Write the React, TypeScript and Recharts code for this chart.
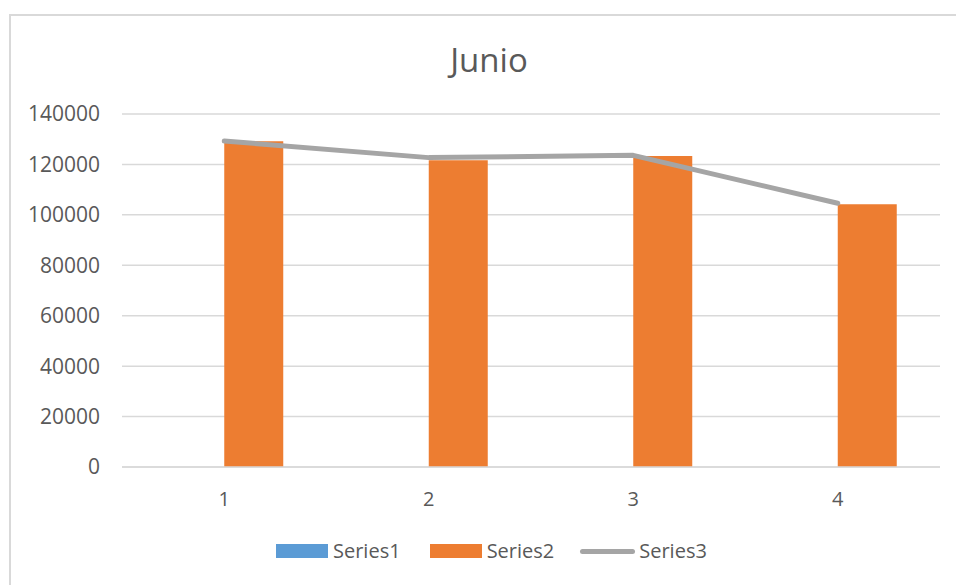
import React from "react";
import { ComposedChart, Bar, Line, XAxis, YAxis, CartesianGrid } from "recharts";

// Weekly figures for June
const categories = ["1", "2", "3", "4"];
const series1 = [1, 2, 3, 4];
const series2 = [129200, 121700, 123300, 104200];
const series3 = [129300, 122700, 123600, 104600];
const yTicks = [0, 20000, 40000, 60000, 80000, 100000, 120000, 140000];

const data = categories.map((c, i) => ({
  name: c,
  Series1: series1[i],
  Series2: series2[i],
  Series3: series3[i],
}));

const FONT = "'Open Sans', sans-serif";
const TEXT = "#595959";
const GRID = "#D9D9D9";
const COLORS = { Series1: "#5B9BD5", Series2: "#ED7D31", Series3: "#A5A5A5" };

const ChartLegend = () => (
  <div style={{ position: "absolute", left: 276, top: 536, display: "flex", alignItems: "center", fontFamily: FONT, fontSize: 20, color: TEXT, lineHeight: "30px" }}>
    <span style={{ display: "inline-block", width: 52, height: 14, background: COLORS.Series1, marginRight: 5 }} />
    <span style={{ marginRight: 29 }}>Series1</span>
    <span style={{ display: "inline-block", width: 52, height: 14, background: COLORS.Series2, marginRight: 5 }} />
    <span style={{ marginRight: 26 }}>Series2</span>
    <span style={{ display: "inline-block", width: 55, height: 5, borderRadius: 3, background: COLORS.Series3, marginRight: 4 }} />
    <span>Series3</span>
  </div>
);

export default function App() {
  return (
    <div style={{ position: "fixed", left: 0, top: 0, width: 956, height: 585, overflow: "hidden", background: "#fff" }}>
      <div style={{ position: "absolute", left: 9, top: 14, width: 990, height: 620, border: `2px solid ${GRID}`, boxSizing: "border-box" }} />
      <div style={{ position: "absolute", left: 0, top: 37, width: 956, textAlign: "center", paddingLeft: 22, boxSizing: "border-box", fontFamily: FONT, fontSize: 33, color: TEXT, lineHeight: "46px" }}>
        Junio
      </div>
      <div style={{ position: "absolute", left: 0, top: 0 }}>
        <ComposedChart
          width={956}
          height={585}
          data={data}
          margin={{ top: 114, right: 16, bottom: 88, left: 0 }}
          barCategoryGap="21.15%"
          barGap={0}
        >
          <CartesianGrid vertical={false} stroke={GRID} strokeWidth={1.5} />
          <XAxis
            dataKey="name"
            height={30}
            axisLine={{ stroke: GRID, strokeWidth: 1.5 }}
            tickLine={false}
            tickSize={0}
            tickMargin={25}
            tick={{ fill: TEXT, fontSize: 20, fontFamily: FONT }}
          />
          <YAxis
            width={122}
            domain={[0, 140000]}
            ticks={yTicks}
            axisLine={false}
            tickLine={false}
            tickSize={0}
            tickMargin={22}
            interval={0}
            tick={{ fill: TEXT, fontSize: 21, fontFamily: FONT }}
          />
          <Bar dataKey="Series1" fill={COLORS.Series1} isAnimationActive={false} />
          <Bar dataKey="Series2" fill={COLORS.Series2} isAnimationActive={false} />
          <Line
            dataKey="Series3"
            stroke={COLORS.Series3}
            strokeWidth={5}
            strokeLinecap="round"
            strokeLinejoin="round"
            dot={false}
            activeDot={false}
            isAnimationActive={false}
          />
        </ComposedChart>
      </div>
      <ChartLegend />
    </div>
  );
}
